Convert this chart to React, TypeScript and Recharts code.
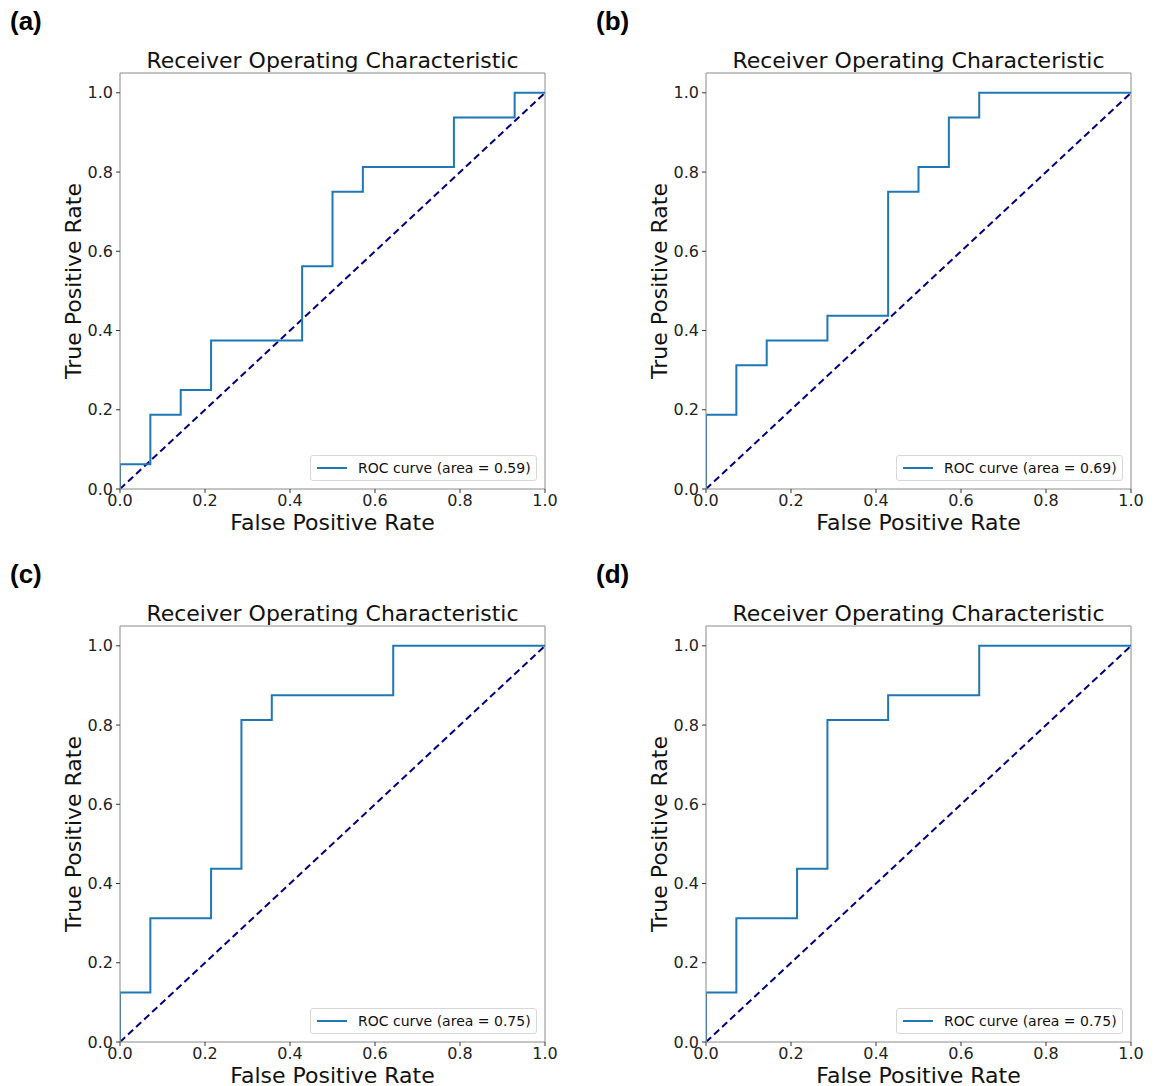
import React from "react";
import { LineChart, Line, XAxis, YAxis, ReferenceLine } from "recharts";

// False positive / true positive rates for each panel (14 negatives, 16 positives)
const fprA = [0, 0, 1 / 14, 1 / 14, 2 / 14, 2 / 14, 3 / 14, 3 / 14, 6 / 14, 6 / 14, 7 / 14, 7 / 14, 8 / 14, 8 / 14, 11 / 14, 11 / 14, 13 / 14, 13 / 14, 1];
const tprA = [0, 1 / 16, 1 / 16, 3 / 16, 3 / 16, 4 / 16, 4 / 16, 6 / 16, 6 / 16, 9 / 16, 9 / 16, 12 / 16, 12 / 16, 13 / 16, 13 / 16, 15 / 16, 15 / 16, 1, 1];

const fprB = [0, 0, 1 / 14, 1 / 14, 2 / 14, 2 / 14, 4 / 14, 4 / 14, 6 / 14, 6 / 14, 7 / 14, 7 / 14, 8 / 14, 8 / 14, 9 / 14, 9 / 14, 1];
const tprB = [0, 3 / 16, 3 / 16, 5 / 16, 5 / 16, 6 / 16, 6 / 16, 7 / 16, 7 / 16, 12 / 16, 12 / 16, 13 / 16, 13 / 16, 15 / 16, 15 / 16, 1, 1];

const fprC = [0, 0, 1 / 14, 1 / 14, 3 / 14, 3 / 14, 4 / 14, 4 / 14, 5 / 14, 5 / 14, 9 / 14, 9 / 14, 1];
const tprC = [0, 2 / 16, 2 / 16, 5 / 16, 5 / 16, 7 / 16, 7 / 16, 13 / 16, 13 / 16, 14 / 16, 14 / 16, 1, 1];

const fprD = [0, 0, 1 / 14, 1 / 14, 3 / 14, 3 / 14, 4 / 14, 4 / 14, 6 / 14, 6 / 14, 9 / 14, 9 / 14, 1];
const tprD = [0, 2 / 16, 2 / 16, 5 / 16, 5 / 16, 7 / 16, 7 / 16, 13 / 16, 13 / 16, 14 / 16, 14 / 16, 1, 1];

const panelLetters = ["(a)", "(b)", "(c)", "(d)"];
const areas = ["0.59", "0.69", "0.75", "0.75"];
const chanceX = [0, 1];
const chanceY = [0, 1];
const ticks = [0, 0.2, 0.4, 0.6, 0.8, 1.0];
const Y_MAX = 1.05;

const titleText = "Receiver Operating Characteristic";
const xLabel = "False Positive Rate";
const yLabel = "True Positive Rate";

const FONT = "'DejaVu Sans', sans-serif";
const W = 586;
const H = 553;
const PL = 120;
const PT = 73;
const PW = 425;
const PH = 416;
const SPINE = "#8a8a8a";

const toPoints = (xs: number[], ys: number[]) => xs.map((x, i) => ({ x, y: ys[i] }));

function Panel({ letter, fpr, tpr, area, left, top }: any) {
  const roc = toPoints(fpr, tpr);
  const chance = toPoints(chanceX, chanceY);
  const tickStyle = { fontSize: 16, fill: "#222", fontFamily: FONT };
  return (
    <div style={{ position: "absolute", left, top, width: W, height: H }}>
      <div
        style={{
          position: "absolute",
          left: 10,
          top: 6,
          fontFamily: "'Liberation Sans', Arial, sans-serif",
          fontWeight: "bold",
          fontSize: 26,
          color: "#000",
        }}
      >
        {letter}
      </div>
      <div
        style={{
          position: "absolute",
          left: PL,
          width: PW,
          top: 47,
          textAlign: "center",
          fontFamily: FONT,
          fontSize: 22,
          color: "#111",
          lineHeight: "28px",
          whiteSpace: "nowrap",
        }}
      >
        {titleText}
      </div>
      <LineChart
        width={W}
        height={H}
        margin={{ top: PT, left: PL - 50, right: W - PL - PW, bottom: H - PT - PH - 60 }}
        style={{ position: "absolute", left: 0, top: 0 }}
      >
        <XAxis
          type="number"
          dataKey="x"
          domain={[0, 1]}
          ticks={ticks}
          tickFormatter={(v: number) => v.toFixed(1)}
          tick={tickStyle}
          tickSize={4}
          tickMargin={2}
          height={60}
          stroke={SPINE}
          tickLine={{ stroke: "#333" }}
          allowDataOverflow
          label={{ value: xLabel, position: "insideTop", offset: 25, fontSize: 22, fill: "#111", fontFamily: FONT }}
        />
        <YAxis
          type="number"
          dataKey="y"
          domain={[0, Y_MAX]}
          ticks={ticks}
          tickFormatter={(v: number) => v.toFixed(1)}
          tick={tickStyle}
          tickSize={4}
          tickMargin={3}
          width={50}
          stroke={SPINE}
          tickLine={{ stroke: "#333" }}
          allowDataOverflow
          label={{ value: yLabel, angle: -90, position: "center", dx: -22, fontSize: 22, fill: "#111", fontFamily: FONT }}
        />
        <ReferenceLine y={Y_MAX} stroke={SPINE} strokeWidth={1} ifOverflow="extendDomain" />
        <ReferenceLine x={1} stroke={SPINE} strokeWidth={1} ifOverflow="extendDomain" />
        <Line
          data={chance}
          dataKey="y"
          type="linear"
          stroke="#000080"
          strokeWidth={2}
          strokeDasharray="7 4"
          dot={false}
          isAnimationActive={false}
        />
        <Line
          data={roc}
          dataKey="y"
          type="linear"
          stroke="#1f77b4"
          strokeWidth={2}
          dot={false}
          isAnimationActive={false}
        />
      </LineChart>
      <div
        style={{
          position: "absolute",
          left: 310,
          top: 455,
          width: 227,
          height: 26,
          boxSizing: "border-box",
          border: "1px solid #d8d8d8",
          borderRadius: 3,
          background: "rgba(255,255,255,0.8)",
          display: "flex",
          alignItems: "center",
          fontFamily: FONT,
          fontSize: 14,
          color: "#111",
          whiteSpace: "nowrap",
        }}
      >
        <div style={{ width: 30, height: 2, background: "#1f77b4", marginLeft: 6, marginRight: 11, flexShrink: 0 }} />
        <span>ROC curve (area = {area})</span>
      </div>
    </div>
  );
}

export default function App() {
  const panels = [
    { fpr: fprA, tpr: tprA, left: 0, top: 0 },
    { fpr: fprB, tpr: tprB, left: 586, top: 0 },
    { fpr: fprC, tpr: tprC, left: 0, top: 553 },
    { fpr: fprD, tpr: tprD, left: 586, top: 553 },
  ];
  return (
    <div style={{ position: "absolute", left: 0, top: 0, width: 1157, height: 1086, background: "#fff" }}>
      {panels.map((p, i) => (
        <Panel key={i} letter={panelLetters[i]} area={areas[i]} {...p} />
      ))}
    </div>
  );
}
